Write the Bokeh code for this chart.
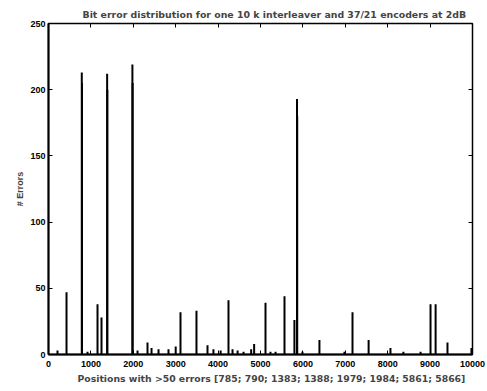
from bokeh.plotting import figure
from bokeh.models import LinearAxis, Range1d, FixedTicker, Title
from bokeh.embed import file_html
from bokeh.resources import INLINE

title_text = "Bit error distribution for one 10 k interleaver and 37/21 encoders at 2dB"
x_label = "Positions with >50 errors [785; 790; 1383; 1388; 1979; 1984; 5861; 5866]"
y_label = "# Errors"

x_ticks = [0, 1000, 2000, 3000, 4000, 5000, 6000, 7000, 8000, 9000, 10000]
y_ticks = [0, 50, 100, 150, 200, 250]

positions = [212, 425, 785, 790, 920, 1156, 1250, 1383, 1388, 1979, 1984,
             2100, 2335, 2430, 2595, 2830, 3000, 3113, 3490, 3750, 3890,
             4060, 4245, 4340, 4460, 4600, 4780, 4850, 5118, 5235, 5355,
             5566, 5800, 5861, 5866, 5990, 6390, 6980, 7170, 7550, 8065,
             8370, 8775, 9010, 9130, 9410, 9975]
errors = [3, 47, 213, 205, 2, 38, 28, 212, 200, 219, 205,
          3, 9, 5, 4, 4, 6, 32, 33, 7, 4,
          3, 41, 4, 3, 2, 4, 8, 39, 2, 2,
          44, 26, 193, 180, 2, 11, 2, 32, 11, 5,
          2, 2, 38, 38, 9, 5]

FONT = "Liberation Sans"
WIDE = "DejaVu Sans"

p = figure(width=487, height=391, output_backend="svg", toolbar_location=None,
           x_range=Range1d(0, 10000), y_range=Range1d(0, 250),
           min_border_left=48, min_border_right=15, min_border_top=23,
           min_border_bottom=37)
p.frame_width = 424
p.frame_height = 331

p.title.text = title_text
p.title.align = "left"
p.title.text_font = WIDE
p.title.text_font_size = "9.4px"
p.title.text_font_style = "bold"
p.title.standoff = 7
p.title.offset = 34

p.grid.visible = False
p.outline_line_color = "black"
p.outline_line_width = 1.5
p.background_fill_color = "white"
p.border_fill_color = "white"

p.segment(x0=positions, y0=[0] * len(positions), x1=positions, y1=errors,
          line_color="black", line_width=2)

for ax, ticks in ((p.xaxis[0], x_ticks), (p.yaxis[0], y_ticks)):
    ax.ticker = FixedTicker(ticks=ticks)
    ax.minor_tick_line_color = None
    ax.major_tick_in = 4
    ax.major_tick_out = 0
    ax.axis_line_width = 2
    ax.major_label_text_font = FONT
    ax.major_label_text_font_size = "9px"
    ax.major_label_text_font_style = "bold"
    ax.major_label_text_color = "black"
    ax.axis_label_text_font_style = "bold"

p.xaxis[0].major_label_standoff = 6
p.yaxis[0].axis_label = y_label
p.yaxis[0].axis_label_text_font = FONT
p.yaxis[0].axis_label_text_font_size = "9px"
p.yaxis[0].major_label_standoff = 3
p.yaxis[0].axis_label_standoff = 2

xlab = Title(text=x_label, align="left", offset=29, text_font=WIDE,
             text_font_size="9.3px", text_font_style="bold", standoff=3)
p.add_layout(xlab, "below")

top = LinearAxis(ticker=FixedTicker(ticks=x_ticks), major_label_text_color=None,
                 major_tick_in=4, major_tick_out=0, minor_tick_line_color=None,
                 major_label_standoff=0, axis_line_color=None)
right = LinearAxis(ticker=FixedTicker(ticks=y_ticks), major_label_text_color=None,
                   major_tick_in=4, major_tick_out=0, minor_tick_line_color=None,
                   major_label_standoff=0, axis_line_color=None)
p.add_layout(top, "above")
p.add_layout(right, "right")

open("out.html", "w").write(file_html(p, INLINE))
